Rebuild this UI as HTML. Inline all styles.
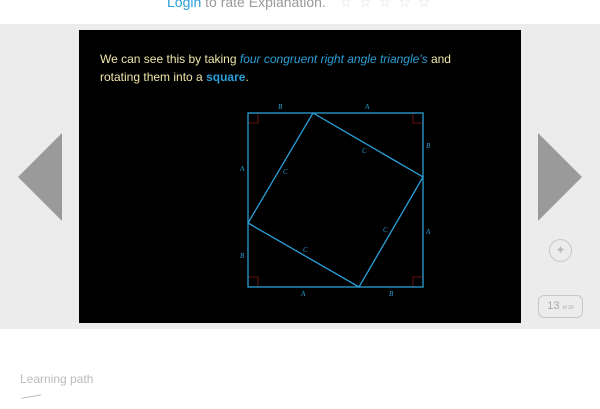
<!DOCTYPE html>
<html><head><meta charset="utf-8"><style>
body{margin:0;width:600px;height:400px;overflow:hidden;background:#fff;font-family:"Liberation Sans",sans-serif;position:relative}
.abs{position:absolute}
</style></head><body>
<div class="abs" style="left:167px;top:-6px;font-size:14px;color:#999;white-space:nowrap"><span style="color:#2a9fd8">Login</span> to rate Explanation. <span style="color:#ddd;letter-spacing:7px;margin-left:10px">☆☆☆☆☆</span></div>
<div class="abs" style="left:0;top:24px;width:600px;height:305px;background:#ececec"></div>
<div class="abs" style="left:18px;top:133px;width:0;height:0;border-top:44px solid transparent;border-bottom:44px solid transparent;border-right:44px solid #9a9a9a"></div>
<div class="abs" style="left:538px;top:133px;width:0;height:0;border-top:44px solid transparent;border-bottom:44px solid transparent;border-left:44px solid #9a9a9a"></div>
<div class="abs" style="left:549px;top:239px;width:21px;height:21px;border:1px solid #c8c8c8;border-radius:50%;color:#bbb;font-size:12px;text-align:center;line-height:21px">✦</div>
<div class="abs" style="left:538px;top:295px;width:43px;height:21px;border:1px solid #c8c8c8;border-radius:6px;color:#aaa;font-size:11px;line-height:21px;text-align:center">13 <span style="font-size:5px">of 26</span></div>
<div class="abs" style="left:79px;top:30px;width:442px;height:293px;background:#000"></div>
<div class="abs" style="left:100px;top:50px;font-size:12px;line-height:18px;color:#f0e6a8;width:360px">We can see this by taking <i style="color:#2a9fd8">four congruent right angle triangle's</i> and rotating them into a <b style="color:#2a9fd8">square</b>.</div>
<svg class="abs" style="left:0;top:0" width="600" height="400" font-family="Liberation Serif" font-style="italic" font-size="7" fill="#2a9fd8">
<g stroke="#6a1010" fill="none" stroke-width="1">
<path d="M248 123h10v-10M423 123h-10v-10M248 277h10v10M423 277h-10v10"/></g>
<rect x="248" y="113" width="175" height="174" fill="none" stroke="#2a9fd8" stroke-width="1.3"/>
<polygon points="313,113 423,177 359,287 248,223" fill="none" stroke="#2a9fd8" stroke-width="1.3"/>
<text x="278" y="109">B</text><text x="365" y="109">A</text>
<text x="426" y="148">B</text><text x="426" y="234">A</text>
<text x="240" y="171">A</text><text x="240" y="258">B</text>
<text x="301" y="296">A</text><text x="389" y="296">B</text>
<text x="362" y="153">C</text><text x="283" y="174">C</text>
<text x="383" y="232">C</text><text x="303" y="252">C</text>
</svg>
<div class="abs" style="left:20px;top:372px;font-size:12px;color:#bbb">Learning path</div>
<div class="abs" style="left:22px;top:396px;width:20px;height:10px;border-top:1px solid #bbb;transform:rotate(-10deg)"></div>
</body></html>
